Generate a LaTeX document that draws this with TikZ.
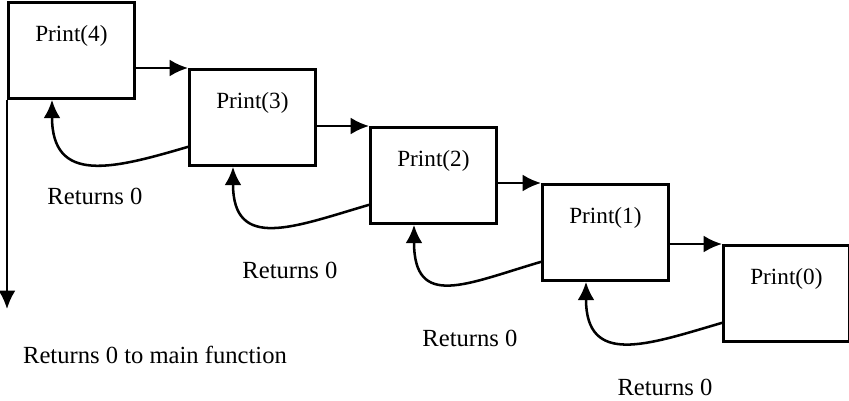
\documentclass[tikz,border=0pt]{standalone}
\usepackage{fontspec}
\setmainfont{Liberation Serif}
\usetikzlibrary{arrows.meta,calc}
\begin{document}
\begin{tikzpicture}[x=0.025cm,y=-0.025cm]
	\tikzstyle{callbox}=[draw,line width=2pt,anchor=north west,minimum width=3.15cm,inner ysep=0pt,text height=0.97cm,text depth=1.43cm,font=\fontsize{16.5}{19}\selectfont]
	\tikzstyle{myarrow}=[line width=1.8pt,-{Latex[length=13pt,width=12pt]}]
	\tikzstyle{retlabel}=[font=\fontsize{17.5}{20}\selectfont]
	\useasboundingbox (0,0) rectangle (849,401);

		\foreach \n / \x / \y in {4/7/1,3/188/68,2/369/126,1/541/183,0/722/244} {\node[callbox] (p\n) at (\x,\y) {Print(\n)};}

		% calls
		\foreach \a / \b in {4/3,3/2,2/1,1/0} {\draw[myarrow] (p\a.east |- p\b.north west) -- (p\b.north west);}

		% returns
		\foreach \a / \b in {3/4,2/3,1/2,0/1} {\draw[myarrow] ($(p\a.south west)+(0,-20)$) .. controls +(-75,22) and +(0,85) .. ($(p\b.south west)+(45,0)$);}

		\coordinate (mainret) at (7,309);
		\draw[myarrow] (p4.south west) -- (mainret);

		\node[retlabel] (r3) at (95,196) {Returns 0};
		\node[retlabel] (r2) at (290,270) {Returns 0};
		\node[retlabel] (r1) at (470,338) {Returns 0};
		\node[retlabel] (r0) at (665,387) {Returns 0};
		\node[retlabel] (rmain) at (155,355) {Returns 0 to main function};
	\end{tikzpicture}
\end{document}
